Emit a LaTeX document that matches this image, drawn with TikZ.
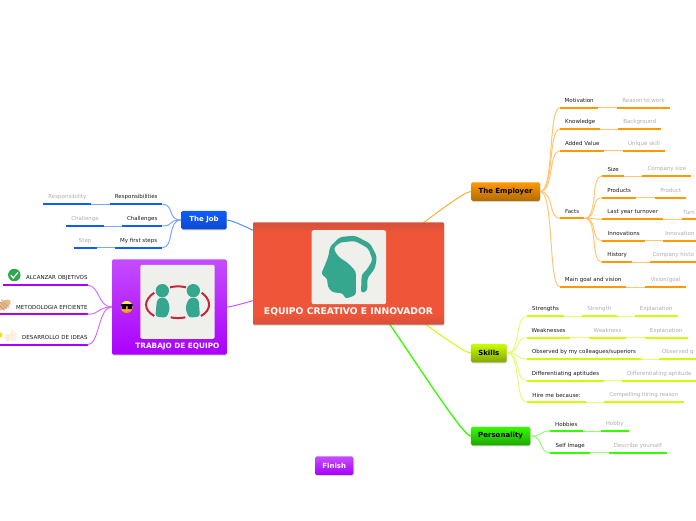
\documentclass[tikz,border=0pt]{standalone}
\usepackage{fontspec}
\setmainfont{DejaVu Sans}
\usetikzlibrary{positioning,shadows,backgrounds}
\definecolor{employerc}{HTML}{FF9900}
\definecolor{skillsc}{HTML}{CCFF00}
\definecolor{personc}{HTML}{33FF00}
\definecolor{jobc}{HTML}{0F5CFF}
\definecolor{teamc}{HTML}{AA00FF}
\definecolor{tealc}{HTML}{35A78F}
\definecolor{redc}{HTML}{C8243C}
\definecolor{maindark}{HTML}{D4503A}
\definecolor{mainc}{HTML}{EE5539}
\definecolor{imgc}{HTML}{EFF0EC}
\definecolor{checkc}{HTML}{2EA84F}
\pgfdeclareverticalshading{mainshade}{100bp}{color(0bp)=(maindark);color(25bp)=(maindark);color(30bp)=(mainc);color(70bp)=(mainc);color(75bp)=(maindark);color(100bp)=(maindark)}
\begin{document}
\begin{tikzpicture}[x=1pt,y=-1pt, every node/.style={font=\fontsize{5.5}{6.5}\selectfont,inner sep=0pt},
  branch/.style 2 args={draw=none,rounded corners=1.5pt,minimum width=#1,minimum height=18.5pt,font=\fontsize{7}{8}\selectfont\bfseries,
    top color=#2,drop shadow={shadow xshift=.4pt,shadow yshift=-1pt,opacity=.35}},
  topic/.style 2 args={minimum width=#1,minimum height=13.6pt,anchor=south west,text=black!90,
    append after command={(\tikzlastnode.south west) edge[draw=#2,line width=2.2pt] (\tikzlastnode.south east)}},
  detail/.style 2 args={topic={#1}{#2},text=black!32},
  subtopic/.style={minimum height=13.6pt,anchor=south west,align=right,text=black!90,
    append after command={(\tikzlastnode.south west) edge[draw=teamc,line width=2.2pt] (\tikzlastnode.south east)}},
  imgbox/.style={fill=imgc,rounded corners=2pt,minimum width=74.4pt,minimum height=74pt},
  curve/.style={to path={.. controls +(14,0) and +(-12,0) .. (\tikztotarget)}},
  curveleft/.style={to path={.. controls +(-14,0) and +(12,0) .. (\tikztotarget)}},
  elink/.style={draw=employerc!55,line width=1pt},
  slink/.style={draw=skillsc!55,line width=1pt},
  plink/.style={draw=personc!55,line width=1pt},
  jlink/.style={draw=jobc!55,line width=1pt},
  tlink/.style={draw=teamc!55,line width=1pt}]
\useasboundingbox (0,0) rectangle (696,520);
% main idea
\node[shade,shading=mainshade,rounded corners=1pt,minimum width=191pt,minimum height=102.4pt,drop shadow={shadow xshift=.4pt,shadow yshift=-1pt,opacity=.35}] (main) at (348.5,273.5) {};
\node[imgbox] (mainimg) at (348.8,267.2) {};
\node[font=\fontsize{9.2}{10}\selectfont\bfseries,text=white,above=8.5pt of main.south] (maintitle) {EQUIPO CREATIVO E INNOVADOR};
\begin{scope}[shift={(245,215)},x=.3333pt,y=-.3333pt]
\fill[tealc,rounded corners=3pt] (300,252)--(333,240)--(333,170)--(310,145)--(280,125)--(265,100)--(285,82)--(330,78)--(370,100)--(383,135)--(365,165)--(350,178)--(348,235)--(367,228)--(367,190)--(390,160)--(396,125)--(375,85)--(330,62)--(285,66)--(255,95)--(250,125)--(240,150)--(228,178)--(247,190)--(248,215)--(262,232)--(295,235)--cycle;
\end{scope}
% branches
\node[branch={69pt}{employerc},bottom color=employerc!70!black] (employer) at (505.5,191.5) {The Employer};
\node[branch={35.7pt}{skillsc},bottom color=skillsc!65!black] (skills) at (488.8,353) {Skills};
\node[branch={59.3pt}{personc},bottom color=personc!65!black] (personality) at (500.6,436) {Personality};
\node[branch={45.4pt}{jobc},bottom color=jobc!80!black,text=white] (job) at (204,220) {The Job};
\node[branch={38.3pt}{teamc!70},bottom color=teamc,text=white] (finish) at (334.2,465.7) {Finish};
% team node
\node[rounded corners=1.5pt,minimum width=114.7pt,minimum height=95.4pt,top color=teamc!70,bottom color=teamc,drop shadow={shadow xshift=.4pt,shadow yshift=-1pt,opacity=.35}] (team) at (169.4,307) {};
\node[imgbox] (teamimg) at (177.5,301.8) {};
\node[font=\fontsize{7.3}{8}\selectfont\bfseries,text=white,above=5pt of team.south,xshift=8pt] (teamtitle) {TRABAJO DE EQUIPO};
\begin{scope}[shift={(110,255)},x=.3333pt,y=-.3333pt]
\fill[tealc] (157,107) circle[radius=20];
\fill[tealc] (250,107) circle[radius=20];
\fill[tealc,rounded corners=3pt] (157,126)--(141,133)--(136,185)--(170,188)--(180,160)--(172,132)--cycle;
\fill[tealc,rounded corners=3pt] (250,126)--(266,133)--(270,185)--(236,188)--(226,160)--(235,132)--cycle;
\draw[redc,line width=2pt] (133,113) .. controls (100,135) and (100,165) .. (133,183);
\draw[redc,line width=2pt] (275,113) .. controls (305,135) and (305,165) .. (273,183);
\draw[redc,line width=2pt] (180,97) .. controls (195,93) and (213,93) .. (228,97);
\draw[redc,line width=2pt] (182,187) .. controls (195,190) and (213,190) .. (226,187);
\end{scope}
% sunglasses
\node[circle,minimum size=12pt,top color=yellow!70,bottom color=orange!90!yellow] (smile) at (126.7,307) {};
\fill[black] (121,304) rectangle (132.5,306) (121.5,305) rectangle (126,309) (127.5,305) rectangle (132,309);
% The Employer
\node[topic={38pt}{employerc}] (motivation) at (560,107.7) {Motivation};
\node[detail={53.3pt}{employerc}] (reason) at (616.7,107.7) {Reason to work};
\node[topic={40pt}{employerc}] (knowledge) at (560,129) {Knowledge};
\node[detail={43pt}{employerc}] (background) at (618,129) {Background};
\node[topic={44pt}{employerc}] (added) at (560,150.7) {Added Value};
\node[detail={42.3pt}{employerc}] (unique) at (622.7,150.7) {Unique skill};
\node[topic={24pt}{employerc}] (facts) at (560,218.3) {Facts};
\node[topic={22pt}{employerc}] (size) at (602,176) {Size};
\node[detail={48.7pt}{employerc}] (compsize) at (642.3,176) {Company size};
\node[topic={34pt}{employerc}] (products) at (602,197.7) {Products};
\node[detail={31pt}{employerc}] (product) at (655,197.7) {Product};
\node[topic={61pt}{employerc}] (turnover) at (602,219.3) {Last year turnover};
\node[detail={14.3pt}{employerc}] (turn) at (681.7,219.3) {Turn};
\node[topic={43pt}{employerc}] (innovations) at (602,240.7) {Innovations};
\node[detail={32.7pt}{employerc}] (innovation) at (663.3,240.7) {Innovation};
\node[topic={30pt}{employerc}] (history) at (602,262.3) {History};
\node[detail={46pt}{employerc}] (comphist) at (650,262.3) {Company histo};
\node[topic={66pt}{employerc}] (goal) at (560,287) {Main goal and vision};
\node[detail={40.7pt}{employerc}] (vision) at (645,287) {Vision/goal};
% Skills
\node[topic={37.3pt}{skillsc}] (strengths) at (526.7,316.3) {Strengths};
\node[detail={34.3pt}{skillsc}] (strength) at (582,316.3) {Strength};
\node[detail={42.6pt}{skillsc}] (explain) at (634.7,316.3) {Explanation};
\node[topic={43.3pt}{skillsc}] (weaknesses) at (526.7,337.7) {Weaknesses};
\node[detail={37.3pt}{skillsc}] (weakness) at (588.7,337.7) {Weakness};
\node[detail={42.6pt}{skillsc}] (explaintwo) at (644.7,337.7) {Explanation};
\node[topic={114.3pt}{skillsc}] (observed) at (526.7,359) {Observed by my colleagues/superiors};
\node[detail={36.7pt}{skillsc}] (observedq) at (659.3,359) {Observed q};
\node[topic={77.3pt}{skillsc}] (aptitudes) at (526.7,380.7) {Differentiating aptitudes};
\node[detail={73.7pt}{skillsc}] (aptitude) at (622.3,380.7) {Differentiating aptitude};
\node[topic={59.3pt}{skillsc}] (hire) at (526.7,402) {Hire me because:};
\node[detail={79.3pt}{skillsc}] (compelling) at (604,402) {Compelling hiring reason};
% Personality
\node[topic={32.3pt}{personc}] (hobbies) at (550,431) {Hobbies};
\node[detail={27.6pt}{personc}] (hobby) at (600.7,431) {Hobby};
\node[topic={40pt}{personc}] (selfimg) at (550,452.7) {Self Image};
\node[detail={57.3pt}{personc}] (describe) at (609,452.7) {Describe yourself};
% The Job
\node[topic={52pt}{jobc}] (resp) at (110,204.3) {Responsibilities};
\node[detail={47.7pt}{jobc}] (respone) at (43.3,204.3) {Responsibility};
\node[topic={40pt}{jobc}] (challenges) at (122,226) {Challenges};
\node[detail={37pt}{jobc}] (challenge) at (66.3,226) {Challenge};
\node[topic={47pt}{jobc}] (steps) at (115,247.7) {My first steps};
\node[detail={22.6pt}{jobc}] (step) at (73.7,247.7) {Step};
% team topics
\node[subtopic,text width=84.6pt] (alcanzar) at (2.7,285.3) {ALCANZAR OBJETIVOS};
\node[subtopic,text width=87.3pt] (metodo) at (0,314.3) {METODOLOGIA EFICIENTE};
\node[subtopic,text width=87.3pt] (desarrollo) at (0,344.7) {DESARROLLO DE IDEAS};
% icons
\node[circle,minimum size=12.5pt,fill=checkc] (check) at (14.3,275) {};
\draw[white,line width=1.2pt] (10.8,275) -- (13.2,278) -- (18,272.5);
\fill[orange!45!brown!55!white,rotate around={35:(4,305)}] (4,305) ellipse[x radius=7.5,y radius=4];
\draw[brown!70!black!60!white,line width=.6pt] (-1,301) -- (7,309) (1,299.5) -- (9,307.5) (-2,304) -- (5,310.5);
\fill[orange!12!white,rounded corners=1pt] (10,333) -- (12.5,328.5) -- (14,329) -- (13.5,332.5) -- (17,333) -- (16,341) -- (10,341) -- cycle;
\fill[orange!18!white,rounded corners=.8pt] (5.5,334) rectangle (9.5,341);
\fill[yellow!80!orange] (0,335) circle[radius=2.5];
% connectors
\begin{scope}[on background layer]
\draw[draw=employerc!80,line width=1pt] (main.center) to[curve] (employer.west);
\draw[draw=skillsc,line width=1pt] (main.center) to[curve] (skills.west);
\draw[draw=personc,line width=1.3pt] (main.center) to[curve] (personality.west);
\draw[draw=jobc!70,line width=1pt] (main.center) to[curveleft] (job.east);
\draw[draw=teamc!65,line width=1pt] (main.center) to[curveleft] (team.east);
\end{scope}
\foreach \a in {motivation,knowledge,added,facts,goal}
  \draw[elink] (employer.east) to[curve] (\a.south west);
\foreach \a in {size,products,turnover,innovations,history}
  \draw[elink] (facts.south east) to[curve] (\a.south west);
\foreach \a/\b in {motivation/reason,knowledge/background,added/unique,size/compsize,products/product,turnover/turn,innovations/innovation,history/comphist,goal/vision}
  \draw[elink] (\a.south east) -- (\b.south west);
\foreach \a in {strengths,weaknesses,observed,aptitudes,hire}
  \draw[slink] (skills.east) to[curve] (\a.south west);
\foreach \a/\b in {strengths/strength,strength/explain,weaknesses/weakness,weakness/explaintwo,observed/observedq,aptitudes/aptitude,hire/compelling}
  \draw[slink] (\a.south east) -- (\b.south west);
\foreach \a in {hobbies,selfimg}
  \draw[plink] (personality.east) to[curve] (\a.south west);
\foreach \a/\b in {hobbies/hobby,selfimg/describe}
  \draw[plink] (\a.south east) -- (\b.south west);
\foreach \a in {resp,challenges,steps}
  \draw[jlink] (job.west) to[curveleft] (\a.south east);
\foreach \a/\b in {resp/respone,challenges/challenge,steps/step}
  \draw[jlink] (\a.south west) -- (\b.south east);
\foreach \a in {alcanzar,metodo,desarrollo}
  \draw[tlink] (team.west) to[curveleft] (\a.south east);
\end{tikzpicture}
\end{document}
